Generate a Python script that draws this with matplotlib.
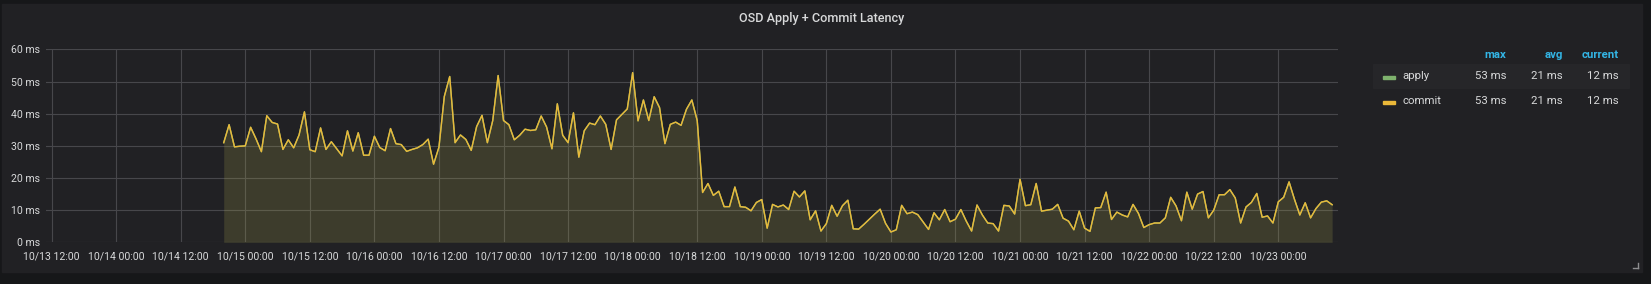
import matplotlib
matplotlib.use("Agg")
import matplotlib.pyplot as plt
import matplotlib.dates as mdates
import matplotlib.ticker as ticker
from matplotlib.patches import Rectangle
from matplotlib.lines import Line2D
import numpy as np
import pandas as pd

plt.rcParams['font.family'] = ['Roboto', 'DejaVu Sans']

# hourly samples, first one at 10/14 20:00
start = "2019-10-14 20:00"
commit_ms = [
    31.0, 36.6, 29.7, 29.9, 30.0, 35.8, 32.2, 28.2, 39.4, 37.3,
    36.8, 28.9, 31.9, 29.4, 33.4, 40.6, 28.8, 28.2, 35.6, 28.9,
    31.3, 29.1, 26.9, 34.7, 28.4, 34.1, 27.1, 27.1, 33.0, 29.5,
    28.5, 35.4, 30.7, 30.4, 28.3, 28.9, 29.4, 30.4, 32.1, 24.3,
    29.6, 45.4, 51.6, 31.0, 33.4, 32.0, 28.6, 36.0, 39.5, 31.0,
    37.9, 51.9, 37.9, 36.6, 31.9, 33.3, 35.2, 34.8, 35.0, 39.3,
    35.9, 29.1, 43.1, 33.3, 31.0, 40.3, 26.5, 34.7, 37.1, 36.6,
    39.3, 36.7, 28.9, 38.1, 39.8, 41.5, 52.8, 37.8, 44.3, 37.9,
    45.3, 41.9, 30.7, 36.7, 37.4, 36.4, 41.4, 44.3, 37.9, 15.5,
    18.3, 14.6, 15.9, 11.1, 11.1, 17.2, 11.1, 10.9, 9.8, 12.4,
    13.3, 4.4, 11.8, 11.0, 11.6, 10.2, 15.9, 14.1, 16.0, 7.0,
    9.8, 3.5, 5.8, 11.5, 8.1, 11.4, 13.1, 4.2, 4.1, 5.6,
    7.2, 8.8, 10.3, 5.9, 3.2, 3.9, 11.5, 8.9, 9.4, 8.6,
    6.3, 4.0, 9.2, 7.0, 10.2, 6.4, 7.2, 10.2, 6.6, 3.5,
    11.6, 8.5, 6.0, 5.8, 3.5, 11.5, 11.3, 8.8, 19.6, 11.4,
    11.7, 18.3, 9.7, 10.0, 10.3, 11.8, 7.5, 6.6, 3.9, 9.7,
    4.4, 3.4, 10.7, 10.8, 15.6, 7.1, 9.4, 8.5, 7.9, 11.8,
    9.0, 4.6, 5.5, 6.0, 6.0, 7.6, 14.0, 11.3, 6.7, 15.6,
    10.3, 15.0, 15.8, 7.6, 10.0, 14.8, 14.8, 16.4, 13.8, 6.0,
    11.0, 12.4, 15.2, 7.8, 8.2, 6.0, 12.6, 14.0, 18.8, 13.4,
    8.5, 12.3, 7.6, 10.5, 12.5, 12.9, 11.7,
]
apply_ms = list(commit_ms)
series_names = ["apply", "commit"]
series_colors = ["#7EB26D", "#EAB839"]
stat_names = ["max", "avg", "current"]
y_ticks = [0, 10, 20, 30, 40, 50, 60]

W, H = 1651, 284


def fx(px):
    return px / W


def fy(py):
    return 1 - py / H


t = pd.date_range(start, periods=len(commit_ms), freq="h")

fig = plt.figure(figsize=(W / 100, H / 100), dpi=100, facecolor="#161719")
fig.patches.append(Rectangle((fx(2), fy(272)), fx(1641.5) - fx(2), fy(4) - fy(272),
                             transform=fig.transFigure, color="#212124", zorder=-2))

ax = fig.add_axes([fx(46), fy(242.3), fx(1338.3) - fx(46), fy(49.5) - fy(242.3)])
ax.set_facecolor("none")
ax.set_zorder(5)

for vals, col in zip([apply_ms, commit_ms], series_colors):
    ax.fill_between(t, 0, vals, color=col, alpha=0.1, lw=0, zorder=2)
    ax.plot(t, vals, color=col, lw=1.0, zorder=3)

ax.set_xlim(pd.Timestamp("2019-10-13 10:58"), pd.Timestamp("2019-10-23 11:09"))
ax.set_ylim(0, 60)
ax.set_yticks(y_ticks)
ax.yaxis.set_major_formatter(ticker.FuncFormatter(lambda v, p: f"{v:.0f} ms"))
ax.xaxis.set_major_locator(mdates.HourLocator(byhour=[0, 12]))
ax.xaxis.set_major_formatter(mdates.DateFormatter("%m/%d %H:%M"))

ax.grid(True, color="#47474b", lw=0.8, zorder=1)
ax.set_axisbelow(True)
for s in ax.spines.values():
    s.set_visible(False)
ax.tick_params(axis="y", length=0, pad=4.2, labelsize=7.6, labelcolor="#d8d9da")
ax.tick_params(axis="x", length=0, pad=6.5, labelsize=7.6, labelcolor="#d8d9da")

fig.text(fx(822), fy(18.3), "OSD Apply + Commit Latency", ha="center", va="center",
         fontsize=9.1, fontweight="medium", color="#d8d9da")

# legend table
stat_x = [1506.5, 1563, 1618.6]
for name, xr in zip(stat_names, stat_x):
    fig.text(fx(xr), fy(55), name, ha="right", va="center", fontsize=8.2,
             fontweight="bold", color="#33b5e5")

fig.patches.append(Rectangle((fx(1373), fy(88)), fx(1629) - fx(1373), fy(64) - fy(88),
                             transform=fig.transFigure, color="#262629", zorder=1))

row_y = [76.3, 101.3]
for name, col, vals, ry in zip(series_names, series_colors, [apply_ms, commit_ms], row_y):
    fig.patches.append(Rectangle((fx(1383), fy(ry + 2.8)), fx(1394.5) - fx(1383), fy(ry) - fy(ry + 2.8),
                                 transform=fig.transFigure, color=col, zorder=2))
    fig.text(fx(1402), fy(ry), name, ha="left", va="center", fontsize=8.2, color="#d8d9da")
    stats = [max(vals), float(np.mean(vals)), vals[-1]]
    for v, xr in zip(stats, stat_x):
        fig.text(fx(xr), fy(ry), f"{v:.0f} ms", ha="right", va="center", fontsize=8.2,
                 color="#d8d9da")

# resize handle
for xs, ys in [([1632.5, 1637.5], [268, 268]), ([1637.5, 1637.5], [263, 268])]:
    fig.lines.append(Line2D([fx(x) for x in xs], [fy(y) for y in ys], transform=fig.transFigure,
                            color="#8e8e90", lw=1.0))

fig.savefig("out.png", dpi=100, facecolor=fig.get_facecolor())
